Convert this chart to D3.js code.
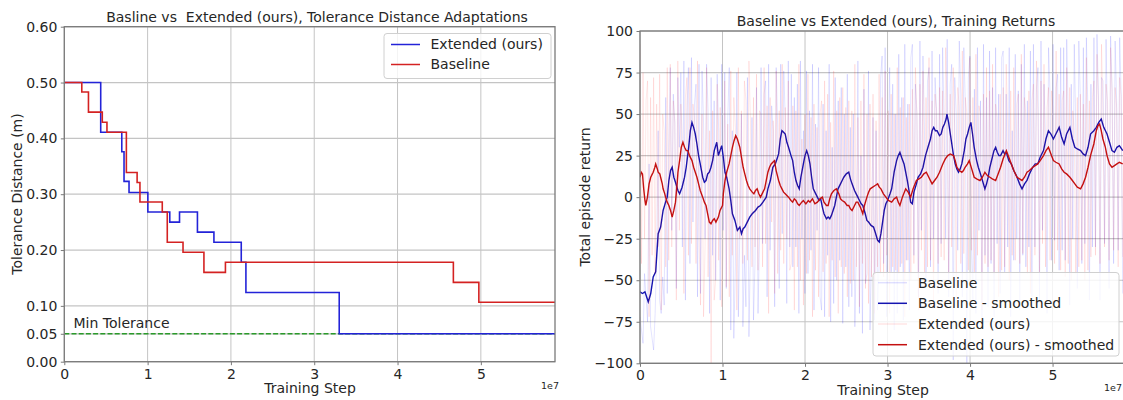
<!DOCTYPE html>
<html><head><meta charset="utf-8">
<script src="https://cdn.jsdelivr.net/npm/d3@7"></script>
<style>
body{margin:0;background:#fff;}
svg text{font-family:"DejaVu Sans",sans-serif;fill:#262626;}
</style></head><body>
<svg id="c" width="1123" height="400"></svg>
<script>
// ---------- data (steps in units of 1e7) ----------
const xTicks = [0,1,2,3,4,5];
const tolTicks = [0,0.05,0.1,0.2,0.3,0.4,0.5,0.6];
const retTicks = [-100,-75,-50,-25,0,25,50,75,100];
const stepMax = 5.89;
const minTolerance = 0.05;

const extSteps = [0,0.437,0.69,0.717,0.777,1.003,1.266,1.383,1.598,1.796,2.124,2.18,3.30,5.89];
const extTol   = [0.50,0.411,0.376,0.323,0.303,0.268,0.250,0.268,0.232,0.214,0.178,0.124,0.05,0.05];
const baseSteps = [0,0.21,0.29,0.456,0.512,0.745,0.874,0.908,1.176,1.236,1.425,1.676,1.934,4.67,4.976,5.89];
const baseTol   = [0.50,0.483,0.447,0.429,0.411,0.339,0.321,0.286,0.268,0.214,0.196,0.160,0.178,0.142,0.1065,0.1065];

const rawEnd = 5.85;
const rawBaseline = [
-72,-80,-88,-46,-60,-75,20,-78,-85,-92,-70,-35,40,-62,-70,-48,-65,60,-58,30,
78,-20,62,45,-55,72,30,75,-30,82,-62,50,78,-40,84,-15,56,68,-60,80,
-58,76,45,-25,80,52,-70,72,-35,58,-50,74,40,-62,80,-20,75,-55,48,78,
-80,40,-85,-42,75,-72,-20,50,-78,-35,-66,72,-84,-30,48,-74,-40,66,-70,-25,
78,-28,62,70,-60,80,-32,55,40,-66,78,42,-55,80,-22,76,48,-64,82,-30,
74,-42,60,-30,68,-70,82,-25,40,-58,76,-46,52,-32,80,-68,44,-20,78,-60,
-68,56,-72,40,-35,80,-75,30,-64,72,-50,58,-38,66,-76,50,-42,74,-66,42,
-60,50,-78,-30,82,-70,25,-82,65,-52,-46,76,-80,-35,48,-74,40,-68,-42,72,
85,-40,90,-72,20,78,-45,68,-80,50,-70,86,-42,60,-74,92,-38,56,-68,84,
92,-35,68,50,-60,94,-20,85,40,-50,70,78,-42,88,-25,72,52,-58,86,-28,
90,45,-25,95,-60,68,80,-98,72,50,-32,94,62,-60,90,56,-100,72,85,-30,
-62,65,-70,90,-20,58,-75,92,-35,60,-66,88,-40,66,-72,90,-28,62,-58,84,
88,-45,62,-30,90,-72,40,-38,86,-25,64,-68,80,-35,92,-42,58,-30,88,-60,
92,-30,65,78,-62,94,-20,68,35,-70,90,62,-38,92,-26,66,74,-44,90,-32,
90,-38,95,50,-65,68,-25,92,42,-55,94,60,-40,90,-28,96,52,-62,68,-30,
96,-30,98,60,-62,72,70,-28,95,40,-55,97,65,-40,94,58,-32,96,62,-58];
const rawExtended = [
92,-40,75,-25,58,70,-72,60,-35,72,-46,56,-30,74,-68,50,40,-42,78,-38,
80,-30,58,45,-62,82,-20,56,35,-58,60,72,-35,78,-28,56,48,-40,82,-25,
-65,50,-72,-30,78,-48,40,-100,52,-62,-50,68,-38,54,-66,-32,70,-54,44,-60,
76,-35,60,42,-68,78,-25,52,-40,70,58,-38,82,46,-42,60,-30,74,-44,52,
50,-42,78,-28,55,-70,60,-15,46,-58,76,-46,52,-32,80,-40,54,-25,70,-44,
-40,55,-68,52,-42,80,-50,35,-65,50,-46,74,-38,48,-72,56,-44,42,-60,50,
58,-45,70,-40,62,-72,45,-38,76,-48,52,-70,60,-42,66,-46,54,-60,58,-52,
52,-50,80,-42,48,-66,58,-40,74,-55,50,-64,56,-48,62,-70,46,-42,74,-46,
60,-48,76,-35,52,-70,62,-42,50,-44,78,-46,54,-40,60,-72,48,-38,56,-50,
65,-40,78,50,-68,68,-32,76,-45,60,-42,84,-38,58,-66,62,52,-40,66,-36,
64,-38,90,52,-46,62,-30,78,40,-62,66,54,-40,88,-34,60,50,-44,84,-32,
60,-45,86,-35,55,50,-68,62,-40,78,-42,64,-38,80,-46,56,48,-60,62,-44,
66,-42,80,45,-50,64,-35,78,-38,56,62,-40,86,-34,60,50,-46,64,-58,58,
68,-35,82,50,-45,70,-28,80,-42,54,66,-38,64,52,-40,88,-32,62,-44,58,
64,-48,78,-40,66,-50,52,40,-46,60,-42,62,-38,56,-50,84,-44,58,-36,60,
70,-35,86,55,-40,92,50,-30,68,58,-38,90,62,-32,66,54,-42,72,60,-36];

const baselineSmooth = [[0,-57],[0.03,-58],[0.06,-57],[0.1,-63],[0.13,-58],[0.16,-48],[0.19,-45],[0.22,-22],[0.25,-18],[0.28,-8],[0.31,-3],[0.33,0],[0.35,10],[0.37,16],[0.39,18],[0.41,12],[0.43,9],[0.46,4],[0.48,2],[0.51,6],[0.54,12],[0.56,18],[0.59,30],[0.61,40],[0.63,45],[0.65,42],[0.67,38],[0.69,32],[0.71,25],[0.73,20],[0.76,12],[0.78,9],[0.80,10],[0.82,14],[0.84,15],[0.86,18],[0.88,22],[0.90,28],[0.93,33],[0.95,25],[0.97,28],[0.99,31],[1.01,24],[1.03,15],[1.05,12],[1.08,5],[1.10,-2],[1.12,-10],[1.15,-14],[1.18,-20],[1.21,-18],[1.23,-22],[1.25,-19],[1.27,-18],[1.30,-15],[1.33,-12],[1.36,-10],[1.40,-8],[1.43,-6],[1.46,-5],[1.49,-3],[1.53,0],[1.55,5],[1.58,10],[1.61,18],[1.64,20],[1.66,23],[1.68,26],[1.70,35],[1.72,40],[1.74,39],[1.76,38],[1.78,33],[1.80,30],[1.83,25],[1.85,22],[1.87,15],[1.89,10],[1.91,7],[1.93,5],[1.95,12],[1.98,20],[2.00,25],[2.02,28],[2.04,25],[2.06,20],[2.08,12],[2.10,5],[2.13,2],[2.15,0],[2.17,-2],[2.19,-1],[2.21,-6],[2.23,-10],[2.26,-13],[2.28,-12],[2.30,-13],[2.32,-11],[2.34,-8],[2.36,-5],[2.38,0],[2.40,5],[2.43,8],[2.45,10],[2.47,12],[2.50,14],[2.53,15],[2.55,11],[2.57,8],[2.60,4],[2.62,2],[2.64,0],[2.66,-2],[2.68,-4],[2.70,-5],[2.73,-10],[2.75,-14],[2.77,-15],[2.80,-17],[2.83,-18],[2.85,-21],[2.88,-26],[2.90,-27],[2.92,-22],[2.94,-15],[2.96,-8],[2.98,-4],[3.00,-2],[3.03,2],[3.05,5],[3.08,15],[3.11,22],[3.13,25],[3.15,27],[3.17,24],[3.20,20],[3.22,15],[3.24,10],[3.26,4],[3.28,-3],[3.30,-4],[3.32,3],[3.35,8],[3.37,12],[3.40,14],[3.43,18],[3.46,25],[3.49,30],[3.52,35],[3.54,40],[3.56,42],[3.58,40],[3.60,40],[3.63,37],[3.65,38],[3.67,42],[3.69,44],[3.71,47],[3.72,50],[3.74,45],[3.77,35],[3.80,25],[3.82,20],[3.84,17],[3.86,15],[3.88,17],[3.90,20],[3.93,28],[3.95,35],[3.97,38],[3.99,42],[4.01,45],[4.03,38],[4.05,30],[4.08,22],[4.10,18],[4.12,15],[4.15,10],[4.18,5],[4.20,8],[4.22,12],[4.24,18],[4.27,24],[4.29,28],[4.31,30],[4.33,27],[4.35,25],[4.37,25],[4.40,28],[4.42,26],[4.44,27],[4.47,22],[4.50,20],[4.53,16],[4.57,12],[4.60,8],[4.63,5],[4.66,8],[4.69,10],[4.72,14],[4.76,18],[4.79,20],[4.82,20],[4.85,24],[4.89,28],[4.92,35],[4.95,40],[4.98,38],[5.01,35],[5.04,38],[5.08,42],[5.11,36],[5.14,32],[5.17,38],[5.21,42],[5.24,35],[5.27,30],[5.30,29],[5.34,28],[5.37,26],[5.40,25],[5.43,30],[5.46,38],[5.50,40],[5.53,42],[5.56,45],[5.59,47],[5.62,42],[5.66,38],[5.69,33],[5.72,28],[5.75,27],[5.78,30],[5.81,31],[5.85,28]];

const extendedSmooth = [[0,12],[0.015,15],[0.03,14],[0.045,5],[0.06,-2],[0.07,-5],[0.09,0],[0.11,8],[0.13,12],[0.15,14],[0.16,15],[0.18,18],[0.19,20],[0.21,17],[0.22,15],[0.24,14],[0.25,12],[0.27,8],[0.28,5],[0.30,2],[0.31,0],[0.33,-3],[0.35,-5],[0.37,-8],[0.39,-12],[0.41,-8],[0.43,-3],[0.45,8],[0.46,15],[0.48,22],[0.50,30],[0.52,33],[0.54,30],[0.56,28],[0.58,28],[0.60,25],[0.63,22],[0.65,18],[0.67,15],[0.69,12],[0.71,8],[0.73,4],[0.76,0],[0.78,-3],[0.80,-5],[0.82,-10],[0.84,-15],[0.86,-16],[0.88,-14],[0.90,-13],[0.92,-15],[0.95,-12],[0.97,-8],[1.00,-5],[1.01,2],[1.03,10],[1.05,15],[1.08,20],[1.10,25],[1.12,30],[1.14,34],[1.16,37],[1.18,35],[1.21,30],[1.23,24],[1.25,18],[1.27,14],[1.29,10],[1.31,7],[1.33,5],[1.36,3],[1.38,2],[1.40,4],[1.42,5],[1.44,2],[1.46,0],[1.49,3],[1.51,5],[1.53,10],[1.55,15],[1.57,18],[1.59,20],[1.61,21],[1.63,22],[1.65,16],[1.68,10],[1.70,7],[1.72,5],[1.74,3],[1.76,2],[1.78,1],[1.80,0],[1.83,-2],[1.85,-3],[1.87,-1],[1.89,-2],[1.91,-4],[1.93,-5],[1.96,-3],[1.98,-2],[2.01,-4],[2.04,-2],[2.06,-3],[2.09,-1],[2.12,-4],[2.15,-3],[2.18,-1],[2.21,0],[2.23,-3],[2.26,-5],[2.28,-5],[2.30,-1],[2.32,2],[2.35,4],[2.38,5],[2.41,2],[2.43,-1],[2.45,-2],[2.48,-3],[2.51,-5],[2.53,-5],[2.55,-7],[2.57,-8],[2.60,-5],[2.62,-3],[2.64,-3],[2.67,-6],[2.70,-10],[2.72,-5],[2.75,0],[2.77,3],[2.79,5],[2.82,6],[2.85,7],[2.88,8],[2.90,6],[2.92,5],[2.95,2],[2.98,0],[3.01,-2],[3.05,-3],[3.08,-1],[3.11,0],[3.13,-3],[3.15,-5],[3.18,0],[3.22,5],[3.25,3],[3.28,0],[3.31,5],[3.35,10],[3.38,11],[3.41,12],[3.44,14],[3.47,15],[3.50,12],[3.54,8],[3.57,10],[3.60,12],[3.63,15],[3.67,20],[3.70,23],[3.73,25],[3.76,26],[3.80,25],[3.82,22],[3.84,18],[3.87,16],[3.90,15],[3.92,16],[3.94,18],[3.97,20],[3.99,22],[4.02,17],[4.05,12],[4.08,11],[4.12,10],[4.15,12],[4.18,15],[4.21,13],[4.24,12],[4.27,11],[4.31,10],[4.34,14],[4.37,18],[4.40,23],[4.44,28],[4.47,24],[4.50,20],[4.53,16],[4.57,12],[4.60,11],[4.63,10],[4.66,12],[4.69,15],[4.72,16],[4.76,18],[4.79,19],[4.82,20],[4.85,22],[4.89,25],[4.92,28],[4.95,30],[4.98,26],[5.01,22],[5.04,21],[5.08,20],[5.11,17],[5.14,15],[5.17,14],[5.21,12],[5.24,10],[5.27,8],[5.30,6],[5.34,5],[5.37,8],[5.40,12],[5.43,18],[5.46,25],[5.50,32],[5.53,40],[5.55,43],[5.57,44],[5.59,40],[5.61,35],[5.64,30],[5.66,25],[5.69,20],[5.72,18],[5.75,19],[5.78,20],[5.81,21],[5.85,20]];

// ---------- drawing ----------
const svg = d3.select("#c");
const GRID = "#c4c4c4", SPINE = "#7a7a7a", FS = 14;

function frame(g, x, y, yTicks, yFmt, id) {
  const [L,R] = x.range(), [B,T] = y.range();
  g.append("clipPath").attr("id", id).append("rect")
    .attr("x", L).attr("y", T).attr("width", R-L).attr("height", B-T);
  const grid = g.append("g");
  grid.selectAll(".gx").data(xTicks).join("line")
    .attr("x1", d=>x(d)).attr("x2", d=>x(d)).attr("y1", T).attr("y2", B)
    .attr("stroke", GRID).attr("stroke-width", 1);
  grid.selectAll(".gy").data(yTicks).join("line")
    .attr("x1", L).attr("x2", R).attr("y1", d=>y(d)).attr("y2", d=>y(d))
    .attr("stroke", GRID).attr("stroke-width", 1.2);
  const ax = g.append("g").attr("transform", `translate(0,${B})`)
    .call(d3.axisBottom(x).tickValues(xTicks).tickSize(3.5).tickPadding(3.5).tickFormat(d3.format("d")));
  const ay = g.append("g").attr("transform", `translate(${L},0)`)
    .call(d3.axisLeft(y).tickValues(yTicks).tickSize(3.5).tickPadding(3.5).tickFormat(yFmt));
  [ax, ay].forEach(a => {
    a.select(".domain").remove();
    a.selectAll(".tick line").attr("stroke", SPINE).attr("stroke-width", 1);
    a.selectAll(".tick text").attr("font-size", FS).attr("fill", "#262626")
      .style("font-family", '"DejaVu Sans",sans-serif');
  });
  return () => g.append("rect").attr("x", L).attr("y", T).attr("width", R-L).attr("height", B-T)
    .attr("fill", "none").attr("stroke", SPINE).attr("stroke-width", 1.3);
}

function legend(g, x0, y0, w, h, items, lineX, textX, rowY) {
  g.append("rect").attr("x", x0).attr("y", y0).attr("width", w).attr("height", h).attr("rx", 3)
    .attr("fill", "#fff").attr("fill-opacity", 0.8).attr("stroke", "#d0d0d0").attr("stroke-width", 1);
  items.forEach((it, i) => {
    const yy = rowY[i];
    g.append("line").attr("x1", lineX[0]).attr("x2", lineX[1]).attr("y1", yy).attr("y2", yy)
      .attr("stroke", it.color).attr("stroke-opacity", it.op || 1).attr("stroke-width", it.w || 1.5);
    g.append("text").attr("x", textX).attr("y", yy).attr("dy", "0.35em").attr("font-size", FS).text(it.label);
  });
}

// ---- Left chart ----
{
  const g = svg.append("g");
  const x = d3.scaleLinear().domain([0, stepMax]).range([64.3, 555]);
  const y = d3.scaleLinear().domain([0, 0.6]).range([361.7, 26.7]);
  const spine = frame(g, x, y, tolTicks, d3.format(".2f"), "clipL");
  const pl = g.append("g").attr("clip-path", "url(#clipL)");
  pl.append("line").attr("x1", x(0)).attr("x2", x(stepMax)).attr("y1", y(minTolerance)).attr("y2", y(minTolerance))
    .attr("stroke", "#2a9a2a").attr("stroke-width", 1.4).attr("stroke-dasharray", "5,2.2");
  const line = d3.line().x(d=>x(d[0])).y(d=>y(d[1])).curve(d3.curveStepAfter);
  pl.append("path").datum(d3.zip(extSteps, extTol)).attr("d", line)
    .attr("fill", "none").attr("stroke", "#2323d8").attr("stroke-width", 1.6);
  pl.append("path").datum(d3.zip(baseSteps, baseTol)).attr("d", line)
    .attr("fill", "none").attr("stroke", "#d42222").attr("stroke-width", 1.6);
  spine();
  g.append("text").attr("x", 73.5).attr("y", 328).attr("font-size", FS).text("Min Tolerance");
  g.append("text").attr("x", 317).attr("y", 21.5).attr("text-anchor", "middle").attr("font-size", FS)
    .style("white-space", "pre").text("Basline vs  Extended (ours), Tolerance Distance Adaptations");
  g.append("text").attr("x", 310).attr("y", 393).attr("text-anchor", "middle").attr("font-size", FS).text("Training Step");
  g.append("text").attr("transform", "translate(22,194) rotate(-90)").attr("text-anchor", "middle")
    .attr("font-size", FS).text("Tolerance Distance (m)");
  g.append("text").attr("x", 559).attr("y", 389).attr("text-anchor", "end").attr("font-size", 9.5).text("1e7");
  legend(g, 384, 33.5, 167, 45, [
    {label: "Extended (ours)", color: "#2323d8"},
    {label: "Baseline", color: "#d42222"}
  ], [391, 420], 430.5, [44.5, 64.5]);
}

// ---- Right chart ----
{
  const g = svg.append("g");
  const x = d3.scaleLinear().domain([0, stepMax]).range([640, 1126]);
  const y = d3.scaleLinear().domain([-100, 100]).range([363.3, 31]);
  const spine = frame(g, x, y, retTicks, d3.format("d"), "clipR");
  const pl = g.append("g").attr("clip-path", "url(#clipR)");
  const idxB = d3.scaleLinear().domain([0, rawBaseline.length-1]).range([0, rawEnd]);
  const idxE = d3.scaleLinear().domain([0, rawExtended.length-1]).range([0, rawEnd]);
  const lineRaw = (sc) => d3.line().x((d,i)=>x(sc(i))).y(d=>y(d));
  const line = d3.line().x(d=>x(d[0])).y(d=>y(d[1]));
  pl.append("path").datum(rawBaseline).attr("d", lineRaw(idxB))
    .attr("fill", "none").attr("stroke", "#0000ff").attr("stroke-opacity", 0.11).attr("stroke-width", 1);
  pl.append("path").datum(baselineSmooth).attr("d", line)
    .attr("fill", "none").attr("stroke", "#1414b0").attr("stroke-width", 1.4);
  pl.append("path").datum(rawExtended).attr("d", lineRaw(idxE))
    .attr("fill", "none").attr("stroke", "#ff0000").attr("stroke-opacity", 0.09).attr("stroke-width", 1);
  pl.append("path").datum(extendedSmooth).attr("d", line)
    .attr("fill", "none").attr("stroke", "#c41010").attr("stroke-width", 1.4);
  spine();
  g.append("text").attr("x", 896).attr("y", 26).attr("text-anchor", "middle").attr("font-size", FS)
    .text("Baseline vs Extended (ours), Training Returns");
  g.append("text").attr("x", 883).attr("y", 395).attr("text-anchor", "middle").attr("font-size", FS).text("Training Step");
  g.append("text").attr("transform", "translate(590,197) rotate(-90)").attr("text-anchor", "middle")
    .attr("font-size", FS).text("Total episode return");
  g.append("text").attr("x", 1122).attr("y", 391).attr("text-anchor", "end").attr("font-size", 9.5).text("1e7");
  legend(g, 873, 272.5, 246, 83.5, [
    {label: "Baseline", color: "#0000ff", op: 0.12, w: 1.5},
    {label: "Baseline - smoothed", color: "#1414b0"},
    {label: "Extended (ours)", color: "#ff0000", op: 0.1, w: 1.5},
    {label: "Extended (ours) - smoothed", color: "#c41010"}
  ], [878, 907], 918, [282.7, 303.3, 324, 344.7]);
}
</script>
</body></html>
